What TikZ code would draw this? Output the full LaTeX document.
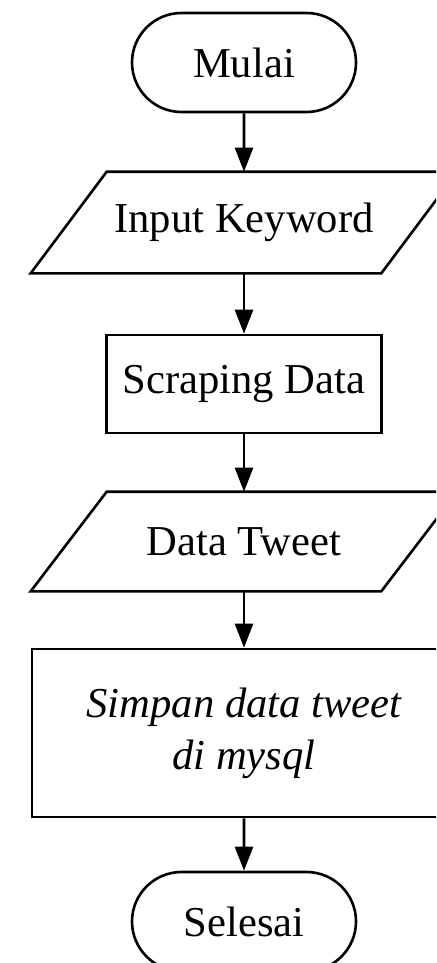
\documentclass[tikz,border=0pt]{standalone}
\usepackage{fontspec}
\setmainfont{Liberation Serif}
\usetikzlibrary{arrows.meta, positioning, calc, shapes.misc}

\begin{document}
\begin{tikzpicture}[x=0.5pt,y=-0.5pt,
    every node/.style={font=\fontsize{21.3}{26}\selectfont, draw, line width=1.3pt, inner sep=0pt, align=center},
    terminal/.style={rounded rectangle, minimum width=112pt, minimum height=49.5pt},
    iobox/.style={rectangle, draw=none, minimum width=174pt, minimum height=49.5pt},
    procbox/.style={rectangle, minimum width=137.5pt, minimum height=49pt},
    flowline/.style={line width=1.3pt, -{Triangle[length=12pt,width=9pt]}}]

    % halaman
    \clip (0,0) rectangle (436,963);

    %--------------------------------
    % simbol flowchart
    %--------------------------------
    \node[terminal] (mulai) at (244,62.5) {Mulai};
    \node[iobox] (input) at (244,222.5) {Input Keyword};
    \node[procbox] (scrap) at (244,384) {Scraping Data};
    \node[iobox, minimum height=48.5pt] (tweet) at (244,541.5) {Data Tweet};
    \node[procbox, minimum width=212pt, minimum height=84pt] (simpan) at (244,733)
        {\itshape Simpan data tweet\\\itshape di mysql};
    \node[terminal] (selesai) at (244,921.5) {Selesai};

    % jajaran genjang input/output
    \foreach \n in {input,tweet}{
        \draw[line width=1.3pt, line join=miter]
            ($(\n.south west)+(-38,0)$) -- ($(\n.north west)+(38,0)$)
            -- ($(\n.north east)+(38,0)$) -- ($(\n.south east)+(-38,0)$) -- cycle;
    }

    %--------------------------------
    % alur
    %--------------------------------
    \draw[flowline] (mulai) -- (input);
    \draw[flowline] (input) -- (scrap);
    \draw[flowline] (scrap) -- (tweet);
    \draw[flowline] (tweet) -- (simpan);
    \draw[flowline] (simpan) -- (selesai);

\end{tikzpicture}
\end{document}
